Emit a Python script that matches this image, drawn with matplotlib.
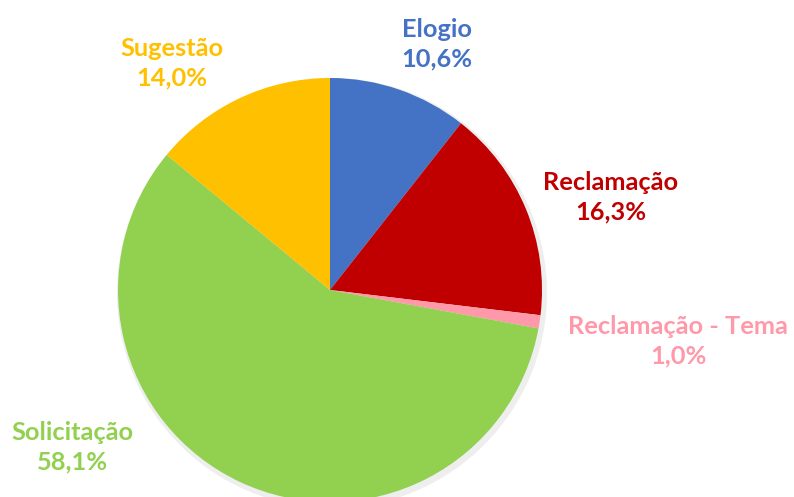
import matplotlib
matplotlib.use("Agg")
import matplotlib.pyplot as plt

categories = ["Elogio", "Reclamação", "Reclamação - Tema", "Solicitação", "Sugestão"]
values = [10.6, 16.3, 1.0, 58.1, 14.0]
pct_labels = ["10,6%", "16,3%", "1,0%", "58,1%", "14,0%"]
colors = ["#4472C4", "#C00000", "#FF99AA", "#92D050", "#FFC000"]
# label centers in pixel coords (x, y from top)
label_pos = [(437, 44), (611, 197), (678, 341), (72, 447), (172, 63)]

W, H = 794, 497
fig = plt.figure(figsize=(W / 100, H / 100), dpi=100)
ax = fig.add_axes([0, 0, 1, 1])
ax.set_xlim(0, W)
ax.set_ylim(0, H)
ax.set_aspect("equal")
ax.axis("off")

cx, cy, r = 330, H - 290, 212
# soft shadow
ax.pie([1], radius=r + 3, center=(cx + 2, cy - 3), colors=["#eeeeee"], frame=True)
ax.pie(values, radius=r, center=(cx, cy), colors=colors, startangle=90,
       counterclock=False, frame=True, wedgeprops=dict(linewidth=0))
ax.set_xlim(0, W)
ax.set_ylim(0, H)
ax.axis("off")

for cat, pct, col, (x, y) in zip(categories, pct_labels, colors, label_pos):
    ax.text(x, H - y, cat + "\n" + pct, color=col, ha="center", va="center",
            fontsize=18.3, fontweight="bold", family=["Lato", "DejaVu Sans"],
            linespacing=1.35)

fig.savefig("out.png", dpi=100)
